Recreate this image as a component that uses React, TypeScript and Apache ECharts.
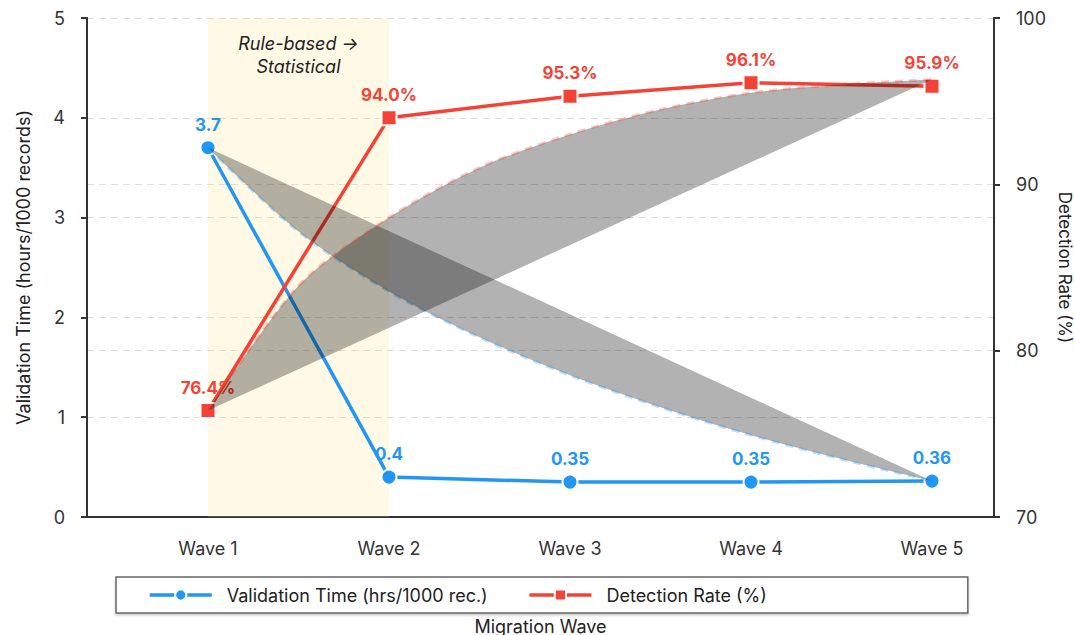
import React, { useEffect, useRef } from "react";
import * as echarts from "echarts";

const categories = ["Wave 1", "Wave 2", "Wave 3", "Wave 4", "Wave 5"];
const validationTime = [3.7, 0.4, 0.35, 0.35, 0.36];
const detectionRate = [76.4, 94.0, 95.3, 96.1, 95.9];

// trend curves at half-wave steps
const trendPositions = [0, 0.5, 1, 1.5, 2, 2.5, 3, 3.5, 4];
const validationTrend = [3.7, 2.86, 2.26, 1.8, 1.42, 1.1, 0.82, 0.58, 0.36];
const detectionTrend = [76.4, 83.9, 88.0, 91.0, 93.0, 94.5, 95.5, 96.0, 96.3];

const leftTicks = { min: 0, max: 5, interval: 1 };
const rightTicks = { min: 70, max: 100, interval: 10 };

const BLUE = "#2196F3";
const RED = "#F44336";
const FONT = "Inter, sans-serif";

function trendSeries(name: string, values: number[], yAxisIndex: number, stroke: string) {
  return {
    name,
    type: "custom",
    yAxisIndex,
    clip: false,
    z: 5,
    silent: true,
    data: [[0, values[0]]],
    renderItem: (_params: any, api: any) => {
      const points = trendPositions.map((x, i) => api.coord([x, values[i]]));
      return {
        type: "polyline",
        shape: { points, smooth: 0.3 },
        style: {
          fill: "rgba(0,0,0,0.3)",
          stroke,
          lineWidth: 3,
          lineDash: [8, 6],
        },
      };
    },
  };
}

export default function App() {
  const ref = useRef<HTMLDivElement>(null);
  useEffect(() => {
    if (!ref.current) return;
    const chart = echarts.init(ref.current, undefined, { renderer: "svg" });
    const axisLabelStyle = { fontFamily: FONT, fontSize: 18, color: "#333" };
    const nameStyle = { fontFamily: FONT, fontSize: 18, color: "#222" };
    chart.setOption({
      animation: false,
      textStyle: { fontFamily: FONT },
      grid: {
        left: 87,
        right: 80,
        top: 18,
        bottom: 118,
        containLabel: false,
        outerBoundsMode: "none",
      },
      legend: {
        data: ["Validation Time (hrs/1000 rec.)", "Detection Rate (%)"],
        left: 116,
        top: 577,
        orient: "horizontal",
        padding: [9, 201, 9, 32],
        itemGap: 40,
        itemWidth: 62,
        itemHeight: 14,
        borderColor: "#666",
        borderWidth: 1.5,
        backgroundColor: "#fff",
        shadowColor: "rgba(0,0,0,0.18)",
        shadowOffsetY: 2,
        shadowBlur: 2,
        lineStyle: { width: 3.5 },
        textStyle: { fontFamily: FONT, fontSize: 18, color: "#222", padding: [0, 0, 0, 10] },
      },
      xAxis: {
        type: "value",
        min: -0.6685,
        max: 4.3425,
        name: "Migration Wave",
        nameLocation: "middle",
        nameGap: 100,
        nameTextStyle: nameStyle,
        axisLine: { show: true, onZero: false, lineStyle: { color: "#333", width: 2 } },
        axisTick: { show: false },
        splitLine: { show: false },
        axisLabel: {
          ...axisLabelStyle,
          margin: 22,
          showMinLabel: false,
          showMaxLabel: false,
          formatter: (v: number) =>
            Number.isInteger(v) && v >= 0 && v < categories.length ? categories[v] : "",
        },
      },
      yAxis: [
        {
          type: "value",
          ...leftTicks,
          name: "Validation Time (hours/1000 records)",
          nameLocation: "middle",
          nameGap: 55,
          nameTextStyle: nameStyle,
          axisLine: { show: true, onZero: false, lineStyle: { color: "#333", width: 2 } },
          axisTick: { show: true, length: 6, lineStyle: { color: "#333", width: 2 } },
          axisLabel: { ...axisLabelStyle, margin: 22 },
          splitLine: { show: true, lineStyle: { color: "#ddd", type: [7, 5], width: 1.2 } },
        },
        {
          type: "value",
          ...rightTicks,
          position: "right",
          name: "Detection Rate (%)",
          nameLocation: "middle",
          nameRotate: -90,
          nameGap: 48,
          nameTextStyle: { ...nameStyle, fontSize: 17 },
          axisLine: { show: true, onZero: false, lineStyle: { color: "#333", width: 2 } },
          axisTick: { show: true, length: 6, lineStyle: { color: "#333", width: 2 } },
          axisLabel: { ...axisLabelStyle, margin: 22 },
          splitLine: { show: true, lineStyle: { color: "#ddd", type: [7, 5], width: 1.2 } },
        },
      ],
      series: [
        {
          name: "Validation Time (hrs/1000 rec.)",
          type: "line",
          yAxisIndex: 0,
          data: validationTime.map((v, i) => [i, v]),
          symbol: "circle",
          symbolSize: 15,
          color: BLUE,
          lineStyle: { color: BLUE, width: 3.5 },
          itemStyle: { color: BLUE, borderColor: "#fff", borderWidth: 2 },
          label: {
            show: true,
            position: "top",
            distance: 6,
            fontFamily: FONT,
            fontSize: 17,
            fontWeight: "bold",
            color: BLUE,
            formatter: (p: any) => String(p.value[1]),
          },
          z: 3,
          markArea: {
            silent: true,
            itemStyle: { color: "rgba(255, 224, 130, 0.2)" },
            label: {
              show: true,
              position: "insideTop",
              distance: 14,
              fontFamily: FONT,
              fontSize: 18,
              fontStyle: "italic",
              color: "#222",
              lineHeight: 23,
              formatter: "Rule-based →\nStatistical",
            },
            data: [[{ xAxis: 0 }, { xAxis: 1 }]],
          },
        },
        {
          name: "Detection Rate (%)",
          type: "line",
          yAxisIndex: 1,
          data: detectionRate.map((v, i) => [i, v]),
          symbol: "rect",
          symbolSize: 15,
          color: RED,
          lineStyle: { color: RED, width: 3.5 },
          itemStyle: { color: RED, borderColor: "#fff", borderWidth: 2 },
          label: {
            show: true,
            position: "top",
            distance: 6,
            fontFamily: FONT,
            fontSize: 17,
            fontWeight: "bold",
            color: RED,
            formatter: (p: any) => p.value[1].toFixed(1) + "%",
          },
          z: 3,
        },
        trendSeries("Validation trend", validationTrend, 0, "rgba(33,150,243,0.3)"),
        trendSeries("Detection trend", detectionTrend, 1, "rgba(244,67,54,0.3)"),
      ],
    });
    return () => chart.dispose();
  }, []);
  return (
    <div
      ref={ref}
      style={{ position: "fixed", left: 0, top: 0, width: 1074, height: 635, background: "#fff" }}
    />
  );
}
